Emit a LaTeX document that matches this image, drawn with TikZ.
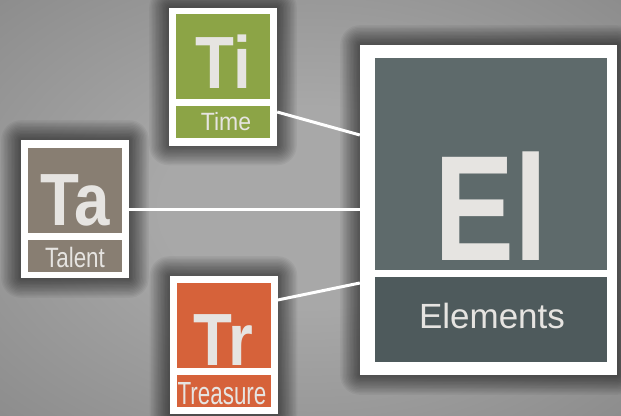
\documentclass[tikz,border=0pt]{standalone}
\usepackage{fontspec}
\setmainfont{Liberation Sans}
\newfontfamily\symfont[FakeStretch=0.86]{Liberation Sans Bold}
\newfontfamily\elfont[FakeStretch=0.8]{Liberation Sans Bold}
\newfontfamily\labfont{Liberation Sans}
\definecolor{tigreen}{RGB}{140,164,70}
\definecolor{tabrown}{RGB}{136,126,114}
\definecolor{trorange}{RGB}{214,98,58}
\definecolor{eltop}{RGB}{94,106,107}
\definecolor{elbot}{RGB}{78,90,92}
\definecolor{txt}{RGB}{230,228,225}
\definecolor{bgin}{RGB}{168,168,168}
\definecolor{bgmid}{RGB}{124,124,124}
\definecolor{bgout}{RGB}{90,90,90}
\pgfdeclareradialshading{bgshade}{\pgfpoint{0bp}{0bp}}{color(0bp)=(bgin); color(12bp)=(bgin); color(50bp)=(bgmid); color(72bp)=(bgout)}
\tikzset{
  frame/.style={fill=white, draw=none, inner sep=0pt},
  smallframe/.style={frame, minimum width=108pt, minimum height=138pt},
  panel/.style={inner sep=0pt, draw=none, text=txt},
  toppanel/.style={panel, minimum width=94pt, minimum height=85pt},
  botpanel/.style={panel, minimum width=94pt, minimum height=32pt},
  symtext/.style={text=txt, inner sep=0pt, font=\symfont\fontsize{74}{74}\selectfont},
  labtext/.style={text=txt, inner sep=0pt},
  link/.style={draw=white, line width=3pt},
  shadowlayer/.style={fill=black, fill opacity=0.045, draw=none},
}
\newcommand{\softshadow}[1]{%
  \foreach \k in {1,...,14}{%
    \fill[shadowlayer, rounded corners=\k*1.4pt]
      ([shift={(-\k*1.4pt,\k*1.4pt)}]#1.north west) rectangle ([shift={(\k*1.4pt,-\k*1.4pt)}]#1.south east);
  }%
}
\begin{document}
\begin{tikzpicture}[x=1pt,y=-1pt]
\shade[shading=bgshade] (0,0) rectangle (621,415);
\useasboundingbox (0,0) rectangle (621,415);

% frames (placed first so shadows can reference them)
\node[smallframe] (ti) at (223,76.5) {};
\node[smallframe] (ta) at (75,209) {};
\node[smallframe] (tr) at (223.5,345) {};
\node[frame, minimum width=257pt, minimum height=330pt] (el) at (488.5,210) {};

% shadows
\begin{scope}[y=1pt]
\softshadow{ti}
\softshadow{ta}
\softshadow{tr}
\softshadow{el}
\end{scope}

% frames again on top of shadows
\node[smallframe] (ti2) at (ti) {};
\node[smallframe] (ta2) at (ta) {};
\node[smallframe] (tr2) at (tr) {};
\node[frame, minimum width=257pt, minimum height=330pt] (el2) at (el) {};

% Time
\node[toppanel, fill=tigreen] (tip) at (223,56.5) {};
\node[botpanel, fill=tigreen] (tib) at (223,122) {};
\node[symtext, anchor=base] (tis) at (223,88) {Ti};
\node[labtext, anchor=base, font=\labfont\fontsize{25}{25}\selectfont] (til) at (226,130) {\scalebox{0.92}[1]{Time}};

% Talent
\node[toppanel, fill=tabrown] (tap) at (75,190) {};
\node[botpanel, fill=tabrown] (tab) at (75,256) {};
\node[symtext, anchor=base] (tas) at (75,225) {Ta};
\node[labtext, anchor=base, font=\labfont\fontsize{28}{28}\selectfont] (tal) at (75,267) {\scalebox{0.8}[1]{Talent}};

% Treasure
\node[toppanel, fill=trorange] (trp) at (223.5,325) {};
\node[botpanel, fill=trorange] (trb) at (223.5,390.5) {};
\node[symtext, anchor=base] (trs) at (223.5,365) {Tr};
\node[labtext, anchor=base, font=\labfont\fontsize{32}{32}\selectfont] (trl) at (222,404) {\scalebox{0.7}[1]{Treasure}};

% Elements
\node[panel, fill=eltop, minimum width=232pt, minimum height=212pt] (elp) at (491,164) {};
\node[panel, fill=elbot, minimum width=232pt, minimum height=85pt] (elb) at (491,319.5) {};
\node[labtext, anchor=base, font=\elfont\fontsize{150}{150}\selectfont] (els) at (491,260) {El};
\node[labtext, anchor=base, font=\labfont\fontsize{35}{35}\selectfont] (ell) at (492,328) {Elements};

% connectors
\draw[link] ([yshift=-35.5pt]ti.east) -- ([yshift=75pt]el.west);
\draw[link] (ta.east) -- ([yshift=1pt]el.west);
\draw[link] ([yshift=45pt]tr.east) -- ([yshift=-73pt]el.west);
\end{tikzpicture}
\end{document}
